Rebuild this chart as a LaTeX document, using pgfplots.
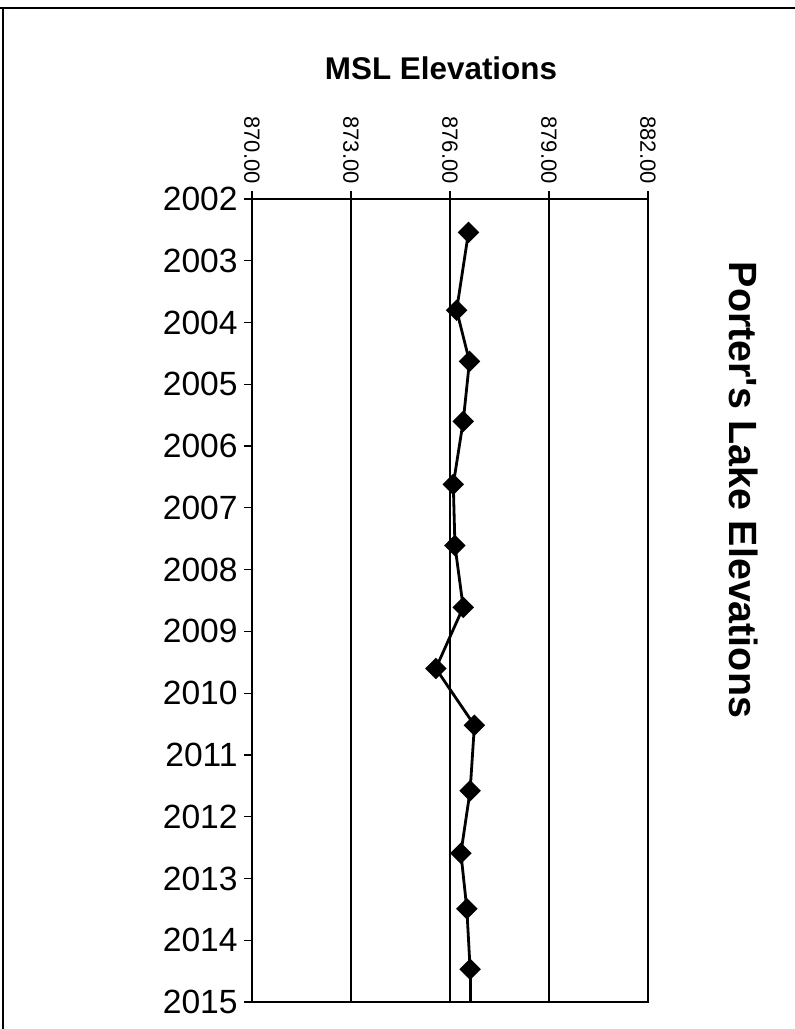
\documentclass[border=0pt]{standalone}
\usepackage{pgfplots}
\pgfplotsset{compat=1.18}
\usepackage{fontspec}
\setmainfont{Liberation Sans}
\newfontfamily\plainfont{Liberation Sans}
\begin{document}
\begin{tikzpicture}
\useasboundingbox (0,0) rectangle (397.5pt,514.5pt);
\draw[line width=1pt] (0,510.5pt) -- (397.5pt,510.5pt);
\draw[line width=1pt] (1.5pt,0) -- (1.5pt,510.5pt);
\begin{axis}[
  at={(126pt,13.5pt)}, anchor=south west,
  scale only axis, width=198pt, height=401.5pt,
  xmin=870, xmax=882, ymin=2002, ymax=2015,
  y dir=reverse,
  xtick={870,873,876,879,882},
  ytick={2002,2003,2004,2005,2006,2007,2008,2009,2010,2011,2012,2013,2014,2015},
  xtick pos=upper, xticklabel pos=upper,
  ytick pos=left,
  tick align=outside,
  major tick length=4pt,
  tick style={black, line width=0.6pt},
  axis line style={black, line width=1.1pt},
  xmajorgrids,
  grid style={black, line width=0.55pt},
  xticklabel style={/pgf/number format/.cd, fixed, fixed zerofill, precision=2, assume math mode=true, /tikz/.cd,
    font=\fontsize{11pt}{13pt}\selectfont, rotate=-90, anchor=east, inner sep=0pt, xshift=-3.5pt},
  yticklabel style={/pgf/number format/.cd, 1000 sep={}, assume math mode=true, /tikz/.cd,
    font=\fontsize{16.8pt}{19pt}\selectfont, anchor=east, inner sep=0pt, xshift=-3pt},
]
\addplot[black, line width=1.4pt, mark=square*, mark size=3.1pt, mark options={rotate=45}] coordinates {
  (876.56,2002.54)
  (876.20,2003.80)
  (876.59,2004.63)
  (876.40,2005.60)
  (876.10,2006.62)
  (876.15,2007.61)
  (876.40,2008.61)
  (875.57,2009.60)
  (876.74,2010.52)
  (876.61,2011.58)
  (876.33,2012.59)
  (876.51,2013.49)
  (876.61,2014.47)
};
\addplot[black, line width=1.4pt, no marks] coordinates {
  (876.61,2014.47)
  (876.61,2015)
};
\end{axis}
\node[font=\bfseries\fontsize{15.7pt}{18pt}\selectfont] at (220.5pt,480.5pt) {MSL Elevations};
\node[font=\plainfont\bfseries\fontsize{19.7pt}{23pt}\selectfont, rotate=-90] at (372pt,269.5pt) {Porter's Lake Elevations};
\end{tikzpicture}
\end{document}
